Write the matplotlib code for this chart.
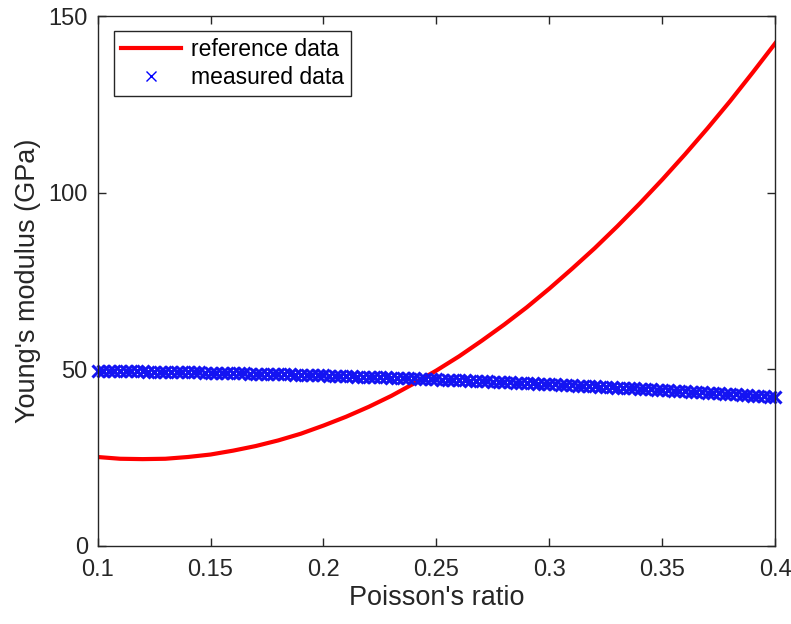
import numpy as np
import matplotlib.pyplot as plt

plt.rcParams.update({'font.family': ['Liberation Sans', 'DejaVu Sans'], 'font.size': 17})

# reference curve, sampled every 0.01 in Poisson's ratio
E_reference = [25.2, 24.7, 24.6, 24.7, 25.2, 25.9, 27.0, 28.3, 29.9, 31.8,
               34.1, 36.6, 39.4, 42.5, 46.0, 49.7, 53.7, 58.1, 62.7, 67.6,
               72.9, 78.5, 84.3, 90.5, 97.0, 103.8, 110.9, 118.3, 126.0, 134.1,
               142.4]
nu_reference = np.linspace(0.1, 0.4, len(E_reference))

# measured points, every 0.0025 in Poisson's ratio
E_measured = [49.60, 49.58, 49.56, 49.54, 49.52, 49.50, 49.48, 49.45,
              49.43, 49.40, 49.38, 49.35, 49.33, 49.30, 49.27, 49.24,
              49.21, 49.18, 49.15, 49.12, 49.09, 49.05, 49.02, 48.99,
              48.95, 48.92, 48.88, 48.84, 48.80, 48.76, 48.72, 48.68,
              48.64, 48.60, 48.56, 48.52, 48.47, 48.43, 48.38, 48.33,
              48.29, 48.24, 48.19, 48.14, 48.09, 48.04, 47.99, 47.94,
              47.89, 47.83, 47.78, 47.72, 47.67, 47.61, 47.56, 47.50,
              47.44, 47.38, 47.32, 47.26, 47.20, 47.14, 47.07, 47.01,
              46.95, 46.88, 46.82, 46.75, 46.68, 46.62, 46.55, 46.48,
              46.41, 46.34, 46.26, 46.19, 46.12, 46.05, 45.97, 45.90,
              45.82, 45.74, 45.67, 45.59, 45.51, 45.43, 45.35, 45.27,
              45.19, 45.11, 45.02, 44.94, 44.86, 44.77, 44.68, 44.60,
              44.51, 44.42, 44.33, 44.24, 44.16, 44.06, 43.97, 43.88,
              43.79, 43.69, 43.60, 43.50, 43.41, 43.31, 43.21, 43.11,
              43.02, 42.92, 42.81, 42.71, 42.61, 42.51, 42.41, 42.30,
              42.20]
nu_measured = np.linspace(0.1, 0.4, len(E_measured))

xticks = [0.1, 0.15, 0.2, 0.25, 0.3, 0.35, 0.4]
yticks = [0, 50, 100, 150]

axis_color = (0.15, 0.15, 0.15)

fig = plt.figure(figsize=(7.91, 6.24), dpi=100)
ax = fig.add_axes([0.1233, 0.125, 0.857, 0.849])

ax.plot(nu_reference, E_reference, color=(1, 0, 0), linewidth=3, label='reference data')
ax.plot(nu_measured, E_measured, linestyle='none', marker='x', markersize=8,
        markeredgewidth=2.2, color=(0.08, 0.08, 0.95), label='measured data', clip_on=False)

ax.set_xlim(0.1, 0.4)
ax.set_ylim(0, 150)
ax.set_xticks(xticks)
ax.set_xticklabels(['0.1', '0.15', '0.2', '0.25', '0.3', '0.35', '0.4'])
ax.set_yticks(yticks)

for side in ax.spines.values():
    side.set_color(axis_color)
    side.set_linewidth(1.0)
ax.tick_params(direction='in', length=6, width=1.0, top=True, right=True,
               colors=axis_color, labelcolor=axis_color)
ax.tick_params(axis='x', pad=9)
ax.tick_params(axis='y', pad=7)

ax.set_xlabel("Poisson's ratio", fontsize=19.5, color=axis_color, labelpad=3)
ax.set_ylabel("Young's modulus (GPa)", fontsize=19.5, color=axis_color, labelpad=5)

leg = ax.legend(loc='upper left', bbox_to_anchor=(0.0248, 0.9717), borderaxespad=0,
                fontsize=16.5, handlelength=2.6, handletextpad=0.45, borderpad=0.3,
                labelspacing=0.2, fancybox=False, framealpha=1)
leg.get_frame().set_edgecolor(axis_color)
leg.get_frame().set_linewidth(1.0)
leg.legend_handles[1].set_markersize(7)
leg.legend_handles[1].set_markeredgewidth(1.0)
leg.legend_handles[1].set_color((0, 0, 1))

plt.savefig('out.png', dpi=100)
